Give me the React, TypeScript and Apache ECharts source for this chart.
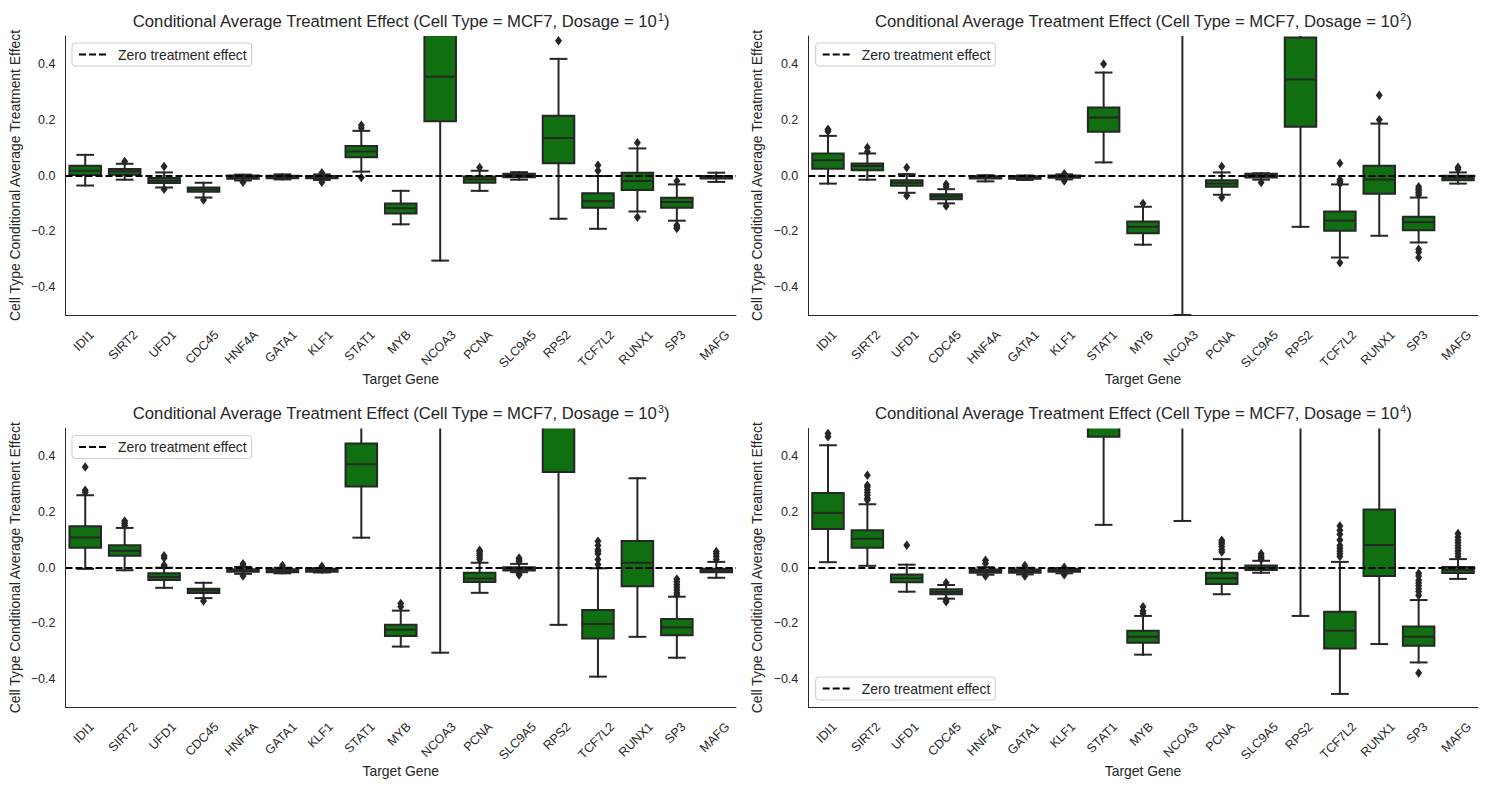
import React, { useEffect, useRef } from 'react';
import * as echarts from 'echarts';

const GENES = ['IDI1', 'SIRT2', 'UFD1', 'CDC45', 'HNF4A', 'GATA1', 'KLF1', 'STAT1', 'MYB', 'NCOA3', 'PCNA', 'SLC9A5', 'RPS2', 'TCF7L2', 'RUNX1', 'SP3', 'MAFG'];
const DOSAGE_EXP = ['1', '2', '3', '4'];
const Y_TICKS = [-0.4, -0.2, 0, 0.2, 0.4];

// Dosage 10^1
const D1_LOW = [-0.036, -0.015, -0.043, -0.079, -0.018, -0.014, -0.016, 0.014, -0.175, -0.305, -0.055, -0.015, -0.155, -0.191, -0.129, -0.162, -0.023];
const D1_Q1 = [0.002, 0.003, -0.027, -0.058, -0.012, -0.010, -0.010, 0.065, -0.136, 0.194, -0.026, -0.006, 0.044, -0.116, -0.052, -0.116, -0.011];
const D1_MED = [0.017, 0.015, -0.019, -0.050, -0.006, -0.006, -0.006, 0.086, -0.117, 0.354, -0.013, 0.000, 0.134, -0.092, -0.020, -0.095, -0.006];
const D1_Q3 = [0.035, 0.023, -0.009, -0.043, 0.000, -0.001, -0.002, 0.106, -0.100, 0.560, -0.004, 0.006, 0.214, -0.064, 0.010, -0.080, -0.002];
const D1_HIGH = [0.074, 0.042, 0.011, -0.026, 0.003, 0.004, 0.004, 0.160, -0.055, 0.950, 0.017, 0.012, 0.418, -0.002, 0.097, -0.032, 0.010];
const D1_OUT: [string, number][] = [
  ['SIRT2', 0.05], ['UFD1', 0.032], ['UFD1', -0.049], ['CDC45', -0.088], ['HNF4A', -0.024],
  ['KLF1', 0.01], ['KLF1', -0.024], ['STAT1', 0.17], ['STAT1', 0.18], ['STAT1', -0.007],
  ['PCNA', 0.029], ['RPS2', 0.483], ['TCF7L2', 0.017], ['TCF7L2', 0.037], ['RUNX1', 0.117],
  ['RUNX1', -0.15], ['SP3', -0.02], ['SP3', -0.178], ['SP3', -0.185], ['SP3', -0.19],
];

// Dosage 10^2
const D2_LOW = [-0.029, -0.015, -0.062, -0.100, -0.021, -0.016, -0.014, 0.047, -0.248, -0.500, -0.069, -0.015, -0.184, -0.294, -0.216, -0.240, -0.029];
const D2_Q1 = [0.024, 0.019, -0.037, -0.085, -0.011, -0.012, -0.008, 0.157, -0.207, 0.600, -0.040, -0.007, 0.175, -0.198, -0.065, -0.196, -0.017];
const D2_MED = [0.055, 0.034, -0.026, -0.075, -0.007, -0.008, -0.004, 0.208, -0.184, 0.800, -0.029, 0.000, 0.344, -0.162, -0.014, -0.168, -0.008];
const D2_Q3 = [0.079, 0.043, -0.017, -0.067, -0.003, -0.003, 0.000, 0.244, -0.165, 1.000, -0.017, 0.006, 0.495, -0.129, 0.035, -0.148, -0.001];
const D2_HIGH = [0.142, 0.079, 0.005, -0.049, 0.001, 0.000, 0.004, 0.369, -0.112, 1.600, 0.011, 0.008, 0.750, -0.032, 0.186, -0.079, 0.011];
const D2_OUT: [string, number][] = [
  ['IDI1', 0.158], ['IDI1', 0.166], ['SIRT2', 0.085], ['SIRT2', 0.1], ['UFD1', 0.029], ['UFD1', -0.073],
  ['CDC45', -0.031], ['CDC45', -0.04], ['CDC45', -0.109], ['KLF1', 0.006], ['KLF1', -0.02],
  ['STAT1', 0.4], ['MYB', -0.1], ['PCNA', 0.032], ['PCNA', -0.079], ['SLC9A5', -0.025],
  ['TCF7L2', 0.044], ['TCF7L2', -0.015], ['TCF7L2', -0.022], ['TCF7L2', -0.03], ['TCF7L2', -0.313],
  ['RUNX1', 0.2], ['RUNX1', 0.288], ['SP3', -0.04], ['SP3', -0.048], ['SP3', -0.055], ['SP3', -0.062],
  ['SP3', -0.07], ['SP3', -0.264], ['SP3', -0.275], ['SP3', -0.294], ['MAFG', 0.022], ['MAFG', 0.03],
];

// Dosage 10^3
const D3_LOW = [-0.004, -0.009, -0.072, -0.109, -0.022, -0.020, -0.017, 0.108, -0.283, -0.305, -0.090, -0.016, -0.205, -0.391, -0.248, -0.323, -0.036];
const D3_Q1 = [0.072, 0.043, -0.044, -0.091, -0.014, -0.016, -0.014, 0.292, -0.245, 0.620, -0.051, -0.010, 0.344, -0.254, -0.066, -0.242, -0.016];
const D3_MED = [0.109, 0.061, -0.033, -0.082, -0.010, -0.011, -0.008, 0.372, -0.223, 0.850, -0.039, -0.004, 0.600, -0.202, 0.018, -0.214, -0.009];
const D3_Q3 = [0.149, 0.081, -0.020, -0.075, -0.005, -0.005, -0.004, 0.446, -0.205, 1.100, -0.018, 0.002, 0.850, -0.152, 0.096, -0.184, -0.004];
const D3_HIGH = [0.260, 0.143, 0.000, -0.054, 0.003, 0.000, -0.001, 0.620, -0.154, 1.800, 0.018, 0.014, 1.300, -0.002, 0.321, -0.104, 0.021];
const D3_OUT: [string, number][] = [
  ['IDI1', 0.362], ['IDI1', 0.278], ['IDI1', 0.27], ['SIRT2', 0.152], ['SIRT2', 0.16], ['SIRT2', 0.168],
  ['UFD1', 0.043], ['UFD1', 0.035], ['UFD1', 0.01], ['UFD1', 0.005], ['CDC45', -0.119],
  ['HNF4A', 0.014], ['HNF4A', 0.008], ['HNF4A', -0.03], ['GATA1', 0.008], ['KLF1', 0.005],
  ['MYB', -0.128], ['MYB', -0.14], ['PCNA', 0.03], ['PCNA', 0.038], ['PCNA', 0.045], ['PCNA', 0.052],
  ['PCNA', 0.058], ['PCNA', 0.063], ['SLC9A5', 0.022], ['SLC9A5', 0.028], ['SLC9A5', 0.035],
  ['SLC9A5', -0.022], ['SLC9A5', -0.026], ['TCF7L2', 0.012], ['TCF7L2', 0.03], ['TCF7L2', 0.05],
  ['TCF7L2', 0.058], ['TCF7L2', 0.065], ['TCF7L2', 0.08], ['TCF7L2', 0.095], ['SP3', -0.04],
  ['SP3', -0.05], ['SP3', -0.06], ['SP3', -0.07], ['SP3', -0.08], ['SP3', -0.09], ['SP3', -0.098],
  ['MAFG', 0.03], ['MAFG', 0.04], ['MAFG', 0.05], ['MAFG', 0.058],
];

// Dosage 10^4
const D4_LOW = [0.020, 0.007, -0.086, -0.111, -0.025, -0.024, -0.020, 0.154, -0.312, 0.168, -0.095, -0.018, -0.173, -0.453, -0.274, -0.340, -0.040];
const D4_Q1 = [0.139, 0.072, -0.052, -0.095, -0.018, -0.018, -0.014, 0.470, -0.269, 0.600, -0.058, -0.008, 0.550, -0.290, -0.030, -0.280, -0.019];
const D4_MED = [0.197, 0.104, -0.038, -0.087, -0.012, -0.012, -0.009, 0.600, -0.248, 0.900, -0.038, 0.000, 0.800, -0.226, 0.082, -0.248, -0.008];
const D4_Q3 = [0.268, 0.135, -0.024, -0.077, -0.006, -0.006, -0.004, 0.750, -0.226, 1.200, -0.018, 0.008, 1.100, -0.158, 0.209, -0.211, 0.003];
const D4_HIGH = [0.440, 0.228, 0.011, -0.062, 0.002, 0.000, -0.001, 1.100, -0.173, 1.800, 0.031, 0.025, 1.600, 0.021, 0.600, -0.116, 0.031];
const D4_OUT: [string, number][] = [
  ['IDI1', 0.47], ['IDI1', 0.482], ['SIRT2', 0.243], ['SIRT2', 0.25], ['SIRT2', 0.26], ['SIRT2', 0.27],
  ['SIRT2', 0.28], ['SIRT2', 0.29], ['SIRT2', 0.296], ['SIRT2', 0.332], ['UFD1', 0.081],
  ['CDC45', -0.054], ['CDC45', -0.116], ['CDC45', -0.122], ['HNF4A', 0.027], ['HNF4A', 0.015],
  ['HNF4A', -0.03], ['GATA1', 0.008], ['GATA1', -0.03], ['KLF1', 0.002], ['KLF1', -0.025],
  ['MYB', -0.14], ['MYB', -0.155], ['MYB', -0.164], ['PCNA', 0.057], ['PCNA', 0.065], ['PCNA', 0.075],
  ['PCNA', 0.085], ['PCNA', 0.092], ['PCNA', 0.099], ['SLC9A5', 0.03], ['SLC9A5', 0.036],
  ['SLC9A5', 0.042], ['SLC9A5', 0.05], ['TCF7L2', 0.04], ['TCF7L2', 0.05], ['TCF7L2', 0.06],
  ['TCF7L2', 0.07], ['TCF7L2', 0.08], ['TCF7L2', 0.1], ['TCF7L2', 0.12], ['TCF7L2', 0.135],
  ['TCF7L2', 0.15], ['SP3', -0.02], ['SP3', -0.03], ['SP3', -0.045], ['SP3', -0.055], ['SP3', -0.065],
  ['SP3', -0.075], ['SP3', -0.085], ['SP3', -0.1], ['SP3', -0.378], ['MAFG', 0.04], ['MAFG', 0.05],
  ['MAFG', 0.06], ['MAFG', 0.07], ['MAFG', 0.08], ['MAFG', 0.09], ['MAFG', 0.1], ['MAFG', 0.11], ['MAFG', 0.123],
];

const PANELS = [
  { low: D1_LOW, q1: D1_Q1, med: D1_MED, q3: D1_Q3, high: D1_HIGH, out: D1_OUT },
  { low: D2_LOW, q1: D2_Q1, med: D2_MED, q3: D2_Q3, high: D2_HIGH, out: D2_OUT },
  { low: D3_LOW, q1: D3_Q1, med: D3_MED, q3: D3_Q3, high: D3_HIGH, out: D3_OUT },
  { low: D4_LOW, q1: D4_Q1, med: D4_MED, q3: D4_Q3, high: D4_HIGH, out: D4_OUT },
];

const FONT = "'Liberation Sans', Arial, sans-serif";
const TEXT = '#262626';
const GREEN = '#106f10';
const LEGEND_NAME = 'Zero treatment effect';
const DASH = [7, 3];

const GRIDS = [
  { left: 65.5, top: 36, width: 670.5, height: 279 },
  { left: 808.3, top: 36, width: 669.4, height: 279 },
  { left: 65.5, top: 428.5, width: 670.5, height: 278.5 },
  { left: 808.3, top: 428.5, width: 669.4, height: 278.5 },
];
const LEGEND_POS = [
  { left: 72, top: 43 },
  { left: 815.7, top: 43 },
  { left: 72, top: 435.5 },
  { left: 815.7, top: 677 },
];
const TITLE_TOP = [11.5, 11.5, 403.5, 403.5];

const TICK_FS = 12.5;

function makeMeasure() {
  const ctx = document.createElement('canvas').getContext('2d');
  if (ctx) ctx.font = `${TICK_FS}px ${FONT}`;
  return (s: string) => (ctx ? ctx.measureText(s).width : s.length * 7.5);
}

const renderBox = (params: any, api: any) => {
  const x = api.value(0);
  const low = api.value(1);
  const q1 = api.value(2);
  const med = api.value(3);
  const q3 = api.value(4);
  const high = api.value(5);
  const band = api.size([1, 0])[0];
  const cx = api.coord([x, 0])[0];
  const py = (v: number) => api.coord([x, v])[1];
  const yLow = py(low), yQ1 = py(q1), yMed = py(med), yQ3 = py(q3), yHigh = py(high);
  const bw = band * 0.8;
  const capW = band * 0.4;
  const ls = { stroke: TEXT, lineWidth: 2, lineCap: 'square' };
  const children: any[] = [
    { type: 'line', shape: { x1: cx, y1: yQ3, x2: cx, y2: yHigh }, style: ls },
    { type: 'line', shape: { x1: cx, y1: yQ1, x2: cx, y2: yLow }, style: ls },
    { type: 'line', shape: { x1: cx - capW / 2, y1: yHigh, x2: cx + capW / 2, y2: yHigh }, style: ls },
    { type: 'line', shape: { x1: cx - capW / 2, y1: yLow, x2: cx + capW / 2, y2: yLow }, style: ls },
    {
      type: 'rect',
      shape: { x: cx - bw / 2, y: Math.min(yQ3, yQ1), width: bw, height: Math.abs(yQ1 - yQ3) },
      style: { fill: GREEN, stroke: TEXT, lineWidth: 2 },
    },
    { type: 'line', shape: { x1: cx - bw / 2, y1: yMed, x2: cx + bw / 2, y2: yMed }, style: { stroke: TEXT, lineWidth: 2 } },
  ];
  return { type: 'group', children };
};

export default function App() {
  const ref = useRef<HTMLDivElement>(null);
  useEffect(() => {
    if (!ref.current) return;
    const chart = echarts.init(ref.current, null, { renderer: 'svg' });
    const measure = makeMeasure();
    const widths = GENES.map((g) => measure(g));

    const renderLabel = (params: any, api: any) => {
      const j = api.value(0);
      const p = api.coord([j, -0.5]);
      const w = widths[j];
      const D = 14.5 + ((w + 9) * 0.7071) / 2;
      return {
        type: 'text',
        x: p[0] - 1.5,
        y: p[1] + D,
        rotation: Math.PI / 4,
        silent: true,
        style: {
          text: GENES[j],
          fill: TEXT,
          fontSize: TICK_FS,
          fontFamily: FONT,
          align: 'center',
          verticalAlign: 'middle',
        },
      };
    };

    const textBase = { color: TEXT, fontFamily: FONT };

    const option: any = {
      animation: false,
      backgroundColor: '#ffffff',
      title: GRIDS.map((g, i) => ({
        text: `Conditional Average Treatment Effect (Cell Type = MCF7, Dosage = 10{sup|${DOSAGE_EXP[i]}})`,
        left: g.left + g.width / 2,
        top: TITLE_TOP[i],
        textAlign: 'center',
        padding: 0,
        textStyle: {
          ...textBase,
          fontSize: 16.7,
          fontWeight: 'normal',
          lineHeight: 20,
          rich: {
            sup: { ...textBase, fontSize: 10.5, verticalAlign: 'top', lineHeight: 12, padding: [0, 0, 0, 0.5] },
          },
        },
      })),
      legend: LEGEND_POS.map((p) => ({
        left: p.left,
        top: p.top,
        data: [LEGEND_NAME],
        selectedMode: false,
        itemWidth: 27,
        itemHeight: 14,
        padding: [4.5, 5, 4.5, 6],
        backgroundColor: 'rgba(255,255,255,0.8)',
        borderColor: '#cccccc',
        borderWidth: 1,
        borderRadius: 3,
        itemStyle: { opacity: 0 },
        lineStyle: { color: '#000000', type: DASH, width: 2 },
        textStyle: { ...textBase, fontSize: 13.9, padding: [0, 0, 0, 7] },
      })),
      grid: GRIDS.map((g) => ({ ...g, containLabel: false })),
      xAxis: GRIDS.map((_, i) => ({
        gridIndex: i,
        type: 'category',
        data: GENES,
        boundaryGap: true,
        axisLine: { show: true, onZero: false, lineStyle: { color: TEXT, width: 1 } },
        axisTick: { show: false },
        splitLine: { show: false },
        axisLabel: { show: false },
        name: 'Target Gene',
        nameLocation: 'middle',
        nameGap: 57,
        nameMoveOverlap: false,
        nameTextStyle: { ...textBase, fontSize: 13.9 },
      })),
      yAxis: GRIDS.map((_, i) => ({
        gridIndex: i,
        type: 'value',
        min: -0.5,
        max: 0.5,
        splitNumber: 5,
        axisLine: { show: true, lineStyle: { color: TEXT, width: 1 } },
        axisTick: { show: false },
        splitLine: { show: false },
        axisLabel: {
          margin: 10,
          fontSize: TICK_FS,
          ...textBase,
          formatter: (v: number) => {
            const hit = Y_TICKS.find((t) => Math.abs(t - v) < 1e-6);
            if (hit === undefined) return '';
            return hit.toFixed(1).replace('-', '\u2212');
          },
        },
        name: 'Cell Type Conditional Average Treatment Effect',
        nameLocation: 'middle',
        nameRotate: 90,
        nameGap: 44,
        nameMoveOverlap: false,
        nameTextStyle: { ...textBase, fontSize: 13.9 },
      })),
      series: [] as any[],
    };

    PANELS.forEach((p, i) => {
      option.series.push({
        type: 'custom',
        xAxisIndex: i,
        yAxisIndex: i,
        clip: true,
        z: 2,
        silent: true,
        renderItem: renderBox,
        encode: { x: 0, y: [1, 2, 3, 4, 5] },
        data: GENES.map((_, j) => [j, p.low[j], p.q1[j], p.med[j], p.q3[j], p.high[j]]),
      });
      option.series.push({
        type: 'scatter',
        xAxisIndex: i,
        yAxisIndex: i,
        clip: true,
        z: 3,
        symbol: 'diamond',
        symbolSize: [7, 9.5],
        itemStyle: { color: TEXT, opacity: 1 },
        silent: true,
        data: p.out.map(([g, v]) => [GENES.indexOf(g), v]),
      });
      option.series.push({
        type: 'line',
        name: LEGEND_NAME,
        xAxisIndex: i,
        yAxisIndex: i,
        z: 5,
        symbol: 'none',
        showSymbol: false,
        data: [],
        itemStyle: { color: '#000000' },
        lineStyle: { color: '#000000', type: DASH, width: 2 },
        markLine: {
          silent: true,
          symbol: ['none', 'none'],
          label: { show: false },
          lineStyle: { color: '#000000', type: DASH, width: 2 },
          data: [{ yAxis: 0 }],
          z: 5,
        },
      });
      option.series.push({
        type: 'custom',
        name: 'tick labels',
        xAxisIndex: i,
        yAxisIndex: i,
        clip: false,
        silent: true,
        z: 6,
        renderItem: renderLabel,
        encode: { x: 0 },
        data: GENES.map((_, j) => [j]),
      });
    });

    chart.setOption(option);
    return () => chart.dispose();
  }, []);

  return (
    <div
      ref={ref}
      style={{ position: 'absolute', left: 0, top: 0, width: 1487, height: 790, background: '#fff' }}
    />
  );
}
